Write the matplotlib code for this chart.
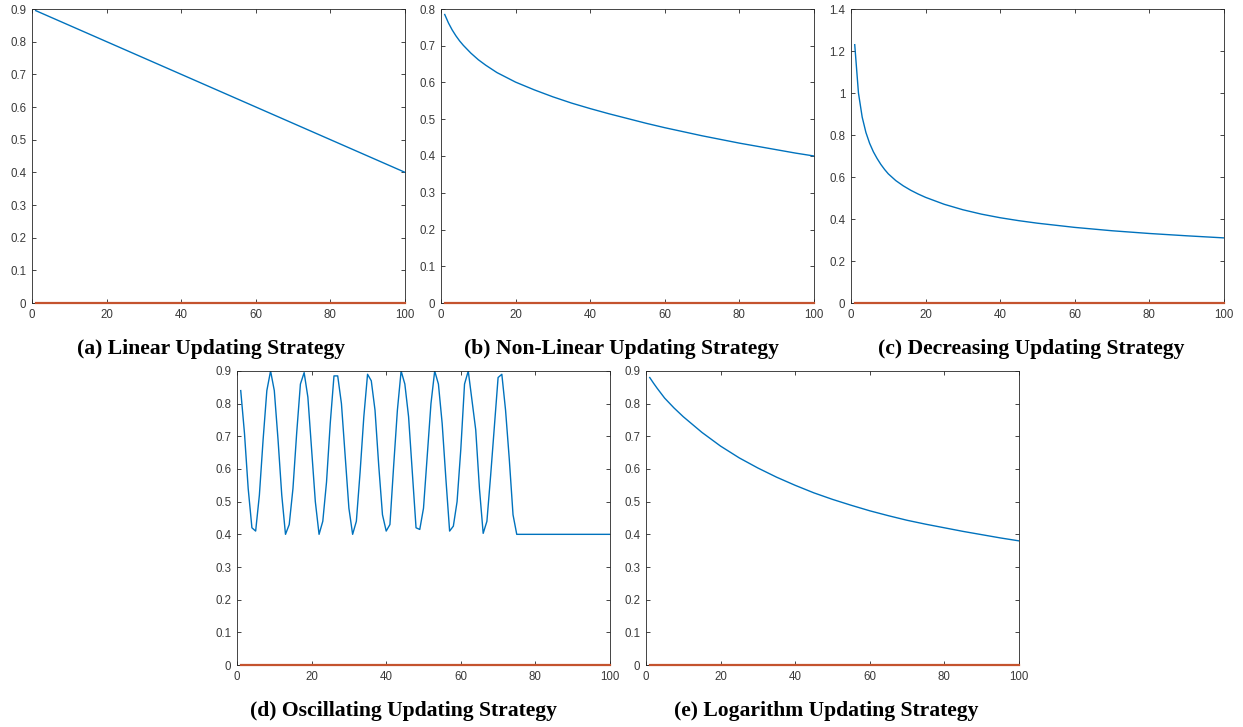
import numpy as np
import matplotlib
matplotlib.use("Agg")
import matplotlib.pyplot as plt
from matplotlib.ticker import FormatStrFormatter, MultipleLocator

# =======================
# DATA
# =======================
lin_x = [1, 100]
lin_y = [0.895, 0.40]

nonlin_x = [1, 2, 3, 4, 5, 6, 8, 10, 12, 15, 20, 25, 30, 35, 40, 45, 50,
            55, 60, 65, 70, 75, 80, 85, 90, 95, 100]
nonlin_y = [0.785, 0.762, 0.743, 0.727, 0.713, 0.701, 0.680, 0.662, 0.647,
            0.627, 0.601, 0.580, 0.561, 0.544, 0.529, 0.515, 0.502, 0.489,
            0.477, 0.466, 0.455, 0.445, 0.435, 0.426, 0.417, 0.408, 0.40]

dec_x = [1, 2, 3, 4, 5, 6, 7, 8, 9, 10, 12, 14, 16, 18, 20, 25, 30, 35, 40,
         45, 50, 60, 70, 80, 90, 100]
dec_y = [1.23, 1.00, 0.885, 0.812, 0.76, 0.72, 0.688, 0.66, 0.636, 0.615,
         0.583, 0.558, 0.537, 0.519, 0.503, 0.470, 0.444, 0.423, 0.406,
         0.392, 0.380, 0.360, 0.344, 0.331, 0.320, 0.310]

osc_x = list(range(1, 76)) + [100]
osc_y = [0.84, 0.71, 0.54, 0.42, 0.41, 0.52, 0.69, 0.84, 0.90, 0.84,   # 1-10
         0.69, 0.52, 0.40, 0.43, 0.54, 0.71, 0.86, 0.895, 0.82, 0.66,  # 11-20
         0.50, 0.40, 0.44, 0.56, 0.74, 0.885, 0.885, 0.80, 0.64, 0.48,  # 21-30
         0.40, 0.44, 0.59, 0.76, 0.89, 0.87, 0.78, 0.61, 0.46, 0.41,    # 31-40
         0.43, 0.61, 0.78, 0.90, 0.86, 0.76, 0.59, 0.42, 0.415, 0.48,   # 41-50
         0.64, 0.80, 0.90, 0.86, 0.74, 0.57, 0.41, 0.425, 0.50, 0.66,   # 51-60
         0.86, 0.90, 0.81, 0.72, 0.54, 0.403, 0.44, 0.58, 0.73, 0.88,   # 61-70
         0.89, 0.78, 0.63, 0.46, 0.40,                                   # 71-75
         0.40]                                                           # 100

log_x = [1, 2, 3, 5, 7.5, 10, 15, 20, 25, 30, 35, 40, 45, 50, 55, 60, 65, 70,
         75, 80, 85, 90, 95, 100]
log_y = [0.88, 0.863, 0.847, 0.817, 0.787, 0.76, 0.712, 0.670, 0.634, 0.603,
         0.575, 0.550, 0.527, 0.507, 0.489, 0.472, 0.457, 0.443, 0.431, 0.420,
         0.409, 0.399, 0.389, 0.38]

zero_x = [1, 100]
zero_y = [0, 0]

captions = ["(a) Linear Updating Strategy", "(b) Non-Linear Updating Strategy",
            "(c) Decreasing Updating Strategy", "(d) Oscillating Updating Strategy",
            "(e) Logarithm Updating Strategy"]
y_tops = [0.9, 0.8, 1.4, 0.9, 0.9]
y_steps = [0.1, 0.1, 0.2, 0.1, 0.1]

# =======================
# STYLE
# =======================
W, H = 1243, 727
BLUE = "#0072BD"
RED = "#C4532E"
AX_COL = "#262626"
TXT_COL = "#3a3a3a"

# axes boxes in pixels: left, top, right, bottom
boxes = [(32, 9, 405, 303), (441, 9, 814, 303), (851, 9, 1224, 303),
         (237, 371, 610, 665), (646, 371, 1019, 665)]
cap_pos = [(211, 349), (621, 349), (1031, 349), (404, 711), (826, 711)]

series = [(lin_x, lin_y), (nonlin_x, nonlin_y), (dec_x, dec_y),
          (osc_x, osc_y), (log_x, log_y)]

plt.rcParams["font.family"] = ["Liberation Sans", "DejaVu Sans"]

fig = plt.figure(figsize=(W / 100, H / 100), dpi=100)

for i, (l, t, r, b) in enumerate(boxes):
    ax = fig.add_axes([l / W, 1 - b / H, (r - l) / W, (b - t) / H])
    xs, ys = series[i]
    ax.plot(xs, ys, color=BLUE, lw=1.0)
    ax.plot(zero_x, zero_y, color=RED, lw=1.6, clip_on=False, zorder=3)

    ax.set_xlim(0, 100)
    ax.set_ylim(0, y_tops[i])
    ax.xaxis.set_major_locator(MultipleLocator(20))
    ax.yaxis.set_major_locator(MultipleLocator(y_steps[i]))
    ax.xaxis.set_major_formatter(FormatStrFormatter("%g"))
    ax.yaxis.set_major_formatter(FormatStrFormatter("%g"))
    ax.tick_params(direction="in", length=3, width=0.6, color=AX_COL,
                   labelcolor=TXT_COL, labelsize=8.3, top=True, right=True,
                   pad=4)
    for sp in ax.spines.values():
        sp.set_color(AX_COL)
        sp.set_linewidth(0.6)

    cx, cy = cap_pos[i]
    fig.text(cx / W, 1 - cy / H, captions[i], ha="center", va="center",
             fontsize=15.6, fontweight="bold", family="Liberation Serif",
             color="black")

fig.savefig("out.png", dpi=100, facecolor="white")
